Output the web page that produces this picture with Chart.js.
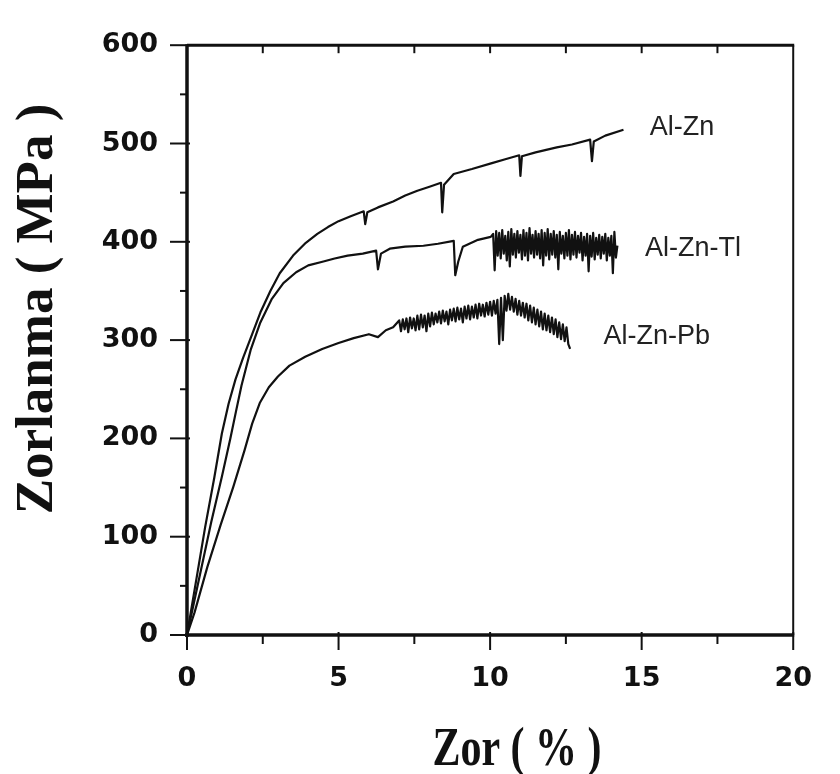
<!DOCTYPE html>
<html>
<head>
<meta charset="utf-8">
<title>Zorlanma - Zor</title>
<script src="https://cdn.jsdelivr.net/npm/chart.js@4.4.1/dist/chart.umd.min.js"></script>
<style>
  html, body { margin: 0; padding: 0; background: #fff; }
  #wrap { width: 840px; height: 774px; }
</style>
</head>
<body>
<div id="wrap"><canvas id="stressChart" width="840" height="774"></canvas></div>
<script>
  // ---------- Data (strain %, stress MPa) ----------
  const alZnStrain = [0, 0.3, 0.6, 0.9, 1.15, 1.37, 1.6, 1.85, 2.1, 2.42, 2.75, 3.06, 3.5, 3.92, 4.3, 4.65, 5.0, 5.4, 5.83, 5.88,
    5.95, 6.3, 6.8, 7.2, 7.6, 8.0, 8.38, 8.42, 8.48, 8.8, 9.4, 10.06, 10.5, 10.96, 11.0, 11.05, 11.5, 12.2, 12.7, 13.3,
    13.36, 13.42, 13.8, 14.4];
  const alZnStress = [0, 55, 110, 160, 205, 235, 260, 282, 302, 328, 350, 368, 386, 399, 408, 415, 421, 426, 431, 418,
    430, 435, 441, 447, 452, 456, 460, 430, 458, 469, 474, 480, 484, 488, 467, 487, 491, 496, 499, 504,
    482, 502, 508, 514];

  const alZnTlStrain = [0, 0.48, 0.8, 1.15, 1.43, 1.62, 1.8, 2.1, 2.42, 2.8, 3.18, 3.6, 4.0, 4.5, 4.87, 5.3, 5.8, 6.24, 6.3, 6.4,
    6.69, 7.2, 7.8, 8.28, 8.8, 8.85, 8.95, 9.1, 9.6, 10.02,
    10.10, 10.15, 10.20, 10.25, 10.30, 10.35, 10.40, 10.45, 10.50, 10.55,
    10.60, 10.65, 10.70, 10.75, 10.80, 10.85, 10.90, 10.95, 11.00, 11.05,
    11.10, 11.15, 11.20, 11.25, 11.30, 11.35, 11.40, 11.45, 11.50, 11.55,
    11.60, 11.65, 11.70, 11.75, 11.80, 11.85, 11.90, 11.95, 12.00, 12.05,
    12.10, 12.15, 12.20, 12.25, 12.30, 12.35, 12.40, 12.45, 12.50, 12.55,
    12.60, 12.65, 12.70, 12.75, 12.80, 12.85, 12.90, 12.95, 13.00, 13.05,
    13.10, 13.15, 13.20, 13.25, 13.30, 13.35, 13.40, 13.45, 13.50, 13.55,
    13.60, 13.65, 13.70, 13.75, 13.80, 13.85, 13.90, 13.95, 14.00, 14.05,
    14.10, 14.15, 14.20];
  const alZnTlStress = [0, 69, 115, 161, 200, 228, 254, 290, 318, 342, 358, 369, 376, 380, 383, 386, 388, 391, 372, 388,
    393, 395, 396, 398, 401, 366, 380, 395, 402, 405,
    408, 371, 411, 386, 409, 383, 412, 388, 406, 381,
    410, 375, 413, 387, 408, 384, 411, 389, 407, 382,
    412, 386, 409, 381, 414, 388, 407, 384, 411, 387,
    408, 383, 412, 376, 409, 386, 413, 382, 408, 387,
    411, 384, 407, 372, 410, 388, 406, 383, 409, 386,
    412, 382, 407, 387, 410, 384, 406, 389, 409, 381,
    405, 386, 408, 370, 406, 385, 409, 382, 404, 387,
    407, 383, 405, 388, 408, 381, 404, 386, 406, 368,
    410, 384, 396];

  const alZnPbStrain = [0, 0.25, 0.67, 1.11, 1.53, 1.9, 2.15, 2.4, 2.7, 3.0, 3.38, 3.9, 4.46, 5.0, 5.5, 6.0, 6.3, 6.56, 6.8,
    7.00, 7.06, 7.12, 7.18, 7.24, 7.30, 7.36, 7.42, 7.48, 7.54,
    7.60, 7.66, 7.72, 7.78, 7.84, 7.90, 7.96, 8.02, 8.08, 8.14,
    8.20, 8.26, 8.32, 8.38, 8.44, 8.50, 8.56, 8.62, 8.68, 8.74,
    8.80, 8.86, 8.92, 8.98, 9.04, 9.10, 9.16, 9.22, 9.28, 9.34,
    9.40, 9.46, 9.52, 9.58, 9.64, 9.70, 9.76, 9.82, 9.88, 9.94,
    10.00, 10.06, 10.12, 10.18, 10.24, 10.30, 10.36, 10.42, 10.48, 10.54,
    10.60, 10.66, 10.72, 10.78, 10.84, 10.90, 10.96, 11.02, 11.08, 11.14,
    11.20, 11.26, 11.32, 11.38, 11.44, 11.50, 11.56, 11.62, 11.68, 11.74,
    11.80, 11.86, 11.92, 11.98, 12.04, 12.10, 12.16, 12.22, 12.28, 12.34,
    12.40, 12.46, 12.52, 12.58, 12.64];
  const alZnPbStress = [0, 23, 69, 112, 151, 188, 215, 236, 252, 263, 274, 283, 291, 297, 302, 306, 303, 310, 313,
    320, 309, 321, 311, 322, 308, 323, 312, 322, 310,
    325, 311, 326, 313, 325, 309, 327, 314, 328, 316,
    327, 318, 329, 317, 330, 319, 329, 316, 331, 320,
    332, 319, 333, 321, 332, 318, 334, 322, 335, 321,
    334, 323, 336, 322, 337, 325, 336, 324, 338, 326,
    339, 325, 340, 327, 341, 296, 343, 300, 345, 330,
    347, 331, 344, 329, 342, 326, 340, 325, 338, 323,
    337, 320, 335, 318, 333, 316, 331, 314, 329, 311,
    327, 310, 325, 308, 323, 306, 321, 303, 318, 301,
    316, 299, 313, 296, 291];

  const xTickValues = [0, 5, 10, 15, 20];
  const yTickValues = [0, 100, 200, 300, 400, 500, 600];

  // text next to each curve (data coords)
  const seriesLabels = [
    { text: "Al-Zn", x: 15.27, y: 516 },
    { text: "Al-Zn-Tl", x: 15.11, y: 393 },
    { text: "Al-Zn-Pb", x: 13.74, y: 304 },
  ];

  const INK = "#111";

  const toPoints = (xs, ys) => xs.map((v, i) => ({ x: v, y: ys[i] }));

  const curve = (label, xs, ys) => ({
    label,
    data: toPoints(xs, ys),
    showLine: true,
    borderColor: INK,
    borderWidth: 2.2,
    borderJoinStyle: "round",
    pointRadius: 0,
    tension: 0,
    fill: false,
  });

  // ---------- Frame, minor ticks, titles ----------
  const frameAndText = {
    id: "frameAndText",
    afterDraw(chart) {
      const { ctx, chartArea: a, scales: { x, y } } = chart;
      const seg = (x1, y1, x2, y2, w) => {
        ctx.lineWidth = w;
        ctx.beginPath();
        ctx.moveTo(x1, y1);
        ctx.lineTo(x2, y2);
        ctx.stroke();
      };

      ctx.save();
      ctx.strokeStyle = INK;
      ctx.fillStyle = INK;

      // box
      seg(a.left, a.top - 1, a.left, a.bottom + 2, 3.5);
      seg(a.left - 2, a.bottom, a.right + 1, a.bottom, 3.5);
      seg(a.left, a.top, a.right + 1, a.top, 3);
      seg(a.right, a.top, a.right, a.bottom, 2);

      // y ticks: 100 major, 50 minor (outside)
      for (let v = 0; v <= 600; v += 50) {
        const py = y.getPixelForValue(v);
        const major = v % 100 === 0;
        seg(a.left - (major ? 17 : 7), py, a.left + (major ? 3 : 0), py, 2);
      }
      // x ticks: 5 major, 2.5 minor (outside) + inner ticks on top edge
      for (let v = 0; v <= 20; v += 2.5) {
        const px = x.getPixelForValue(v);
        const major = v % 5 === 0;
        seg(px, a.bottom - (major ? 3 : 0), px, a.bottom + (major ? 15 : 9), 2);
        if (v > 0 && v < 20) seg(px, a.top, px, a.top + 8, 2);
      }

      // axis titles
      ctx.font = 'bold 53px "Liberation Serif", "Times New Roman", serif';
      ctx.textAlign = "center";
      ctx.textBaseline = "alphabetic";
      ctx.save();
      ctx.translate(52, 309);
      ctx.rotate(-Math.PI / 2);
      ctx.fillText("Zorlanma ( MPa )", 0, 0);
      ctx.restore();

      ctx.save();
      ctx.font = 'bold 42px "Liberation Serif", "Times New Roman", serif';
      ctx.translate(517, 765);
      ctx.scale(1, 1.3);
      ctx.fillText("Zor ( % )", 0, 0);
      ctx.restore();

      // curve names
      ctx.font = '27px "Liberation Sans", Arial, sans-serif';
      ctx.textAlign = "left";
      ctx.textBaseline = "middle";
      ctx.fillStyle = "#222";
      seriesLabels.forEach((l) => {
        ctx.fillText(l.text, x.getPixelForValue(l.x), y.getPixelForValue(l.y));
      });

      ctx.restore();
    },
  };

  const tickFont = { family: '"DejaVu Sans", sans-serif', size: 27, weight: "bold" };

  new Chart(document.getElementById("stressChart"), {
    type: "scatter",
    data: {
      datasets: [
        curve("Al-Zn", alZnStrain, alZnStress),
        curve("Al-Zn-Tl", alZnTlStrain, alZnTlStress),
        curve("Al-Zn-Pb", alZnPbStrain, alZnPbStress),
      ],
    },
    options: {
      responsive: false,
      animation: false,
      devicePixelRatio: 1,
      layout: { padding: { top: 27, right: 27, left: 0, bottom: 0 } },
      plugins: {
        legend: { display: false },
        tooltip: { enabled: false },
      },
      scales: {
        x: {
          type: "linear",
          min: 0,
          max: 20,
          afterBuildTicks: (s) => { s.ticks = xTickValues.map((v) => ({ value: v })); },
          afterFit: (s) => { s.height = 139; },
          grid: { display: false, drawTicks: false },
          border: { display: false },
          ticks: { font: tickFont, color: INK, padding: 28, maxRotation: 0 },
        },
        y: {
          type: "linear",
          min: 0,
          max: 600,
          afterBuildTicks: (s) => { s.ticks = yTickValues.map((v) => ({ value: v })); },
          afterFit: (s) => { s.width = 187; },
          grid: { display: false, drawTicks: false },
          border: { display: false },
          ticks: { font: tickFont, color: INK, padding: 29 },
        },
      },
    },
    plugins: [frameAndText],
  });
</script>
</body>
</html>
